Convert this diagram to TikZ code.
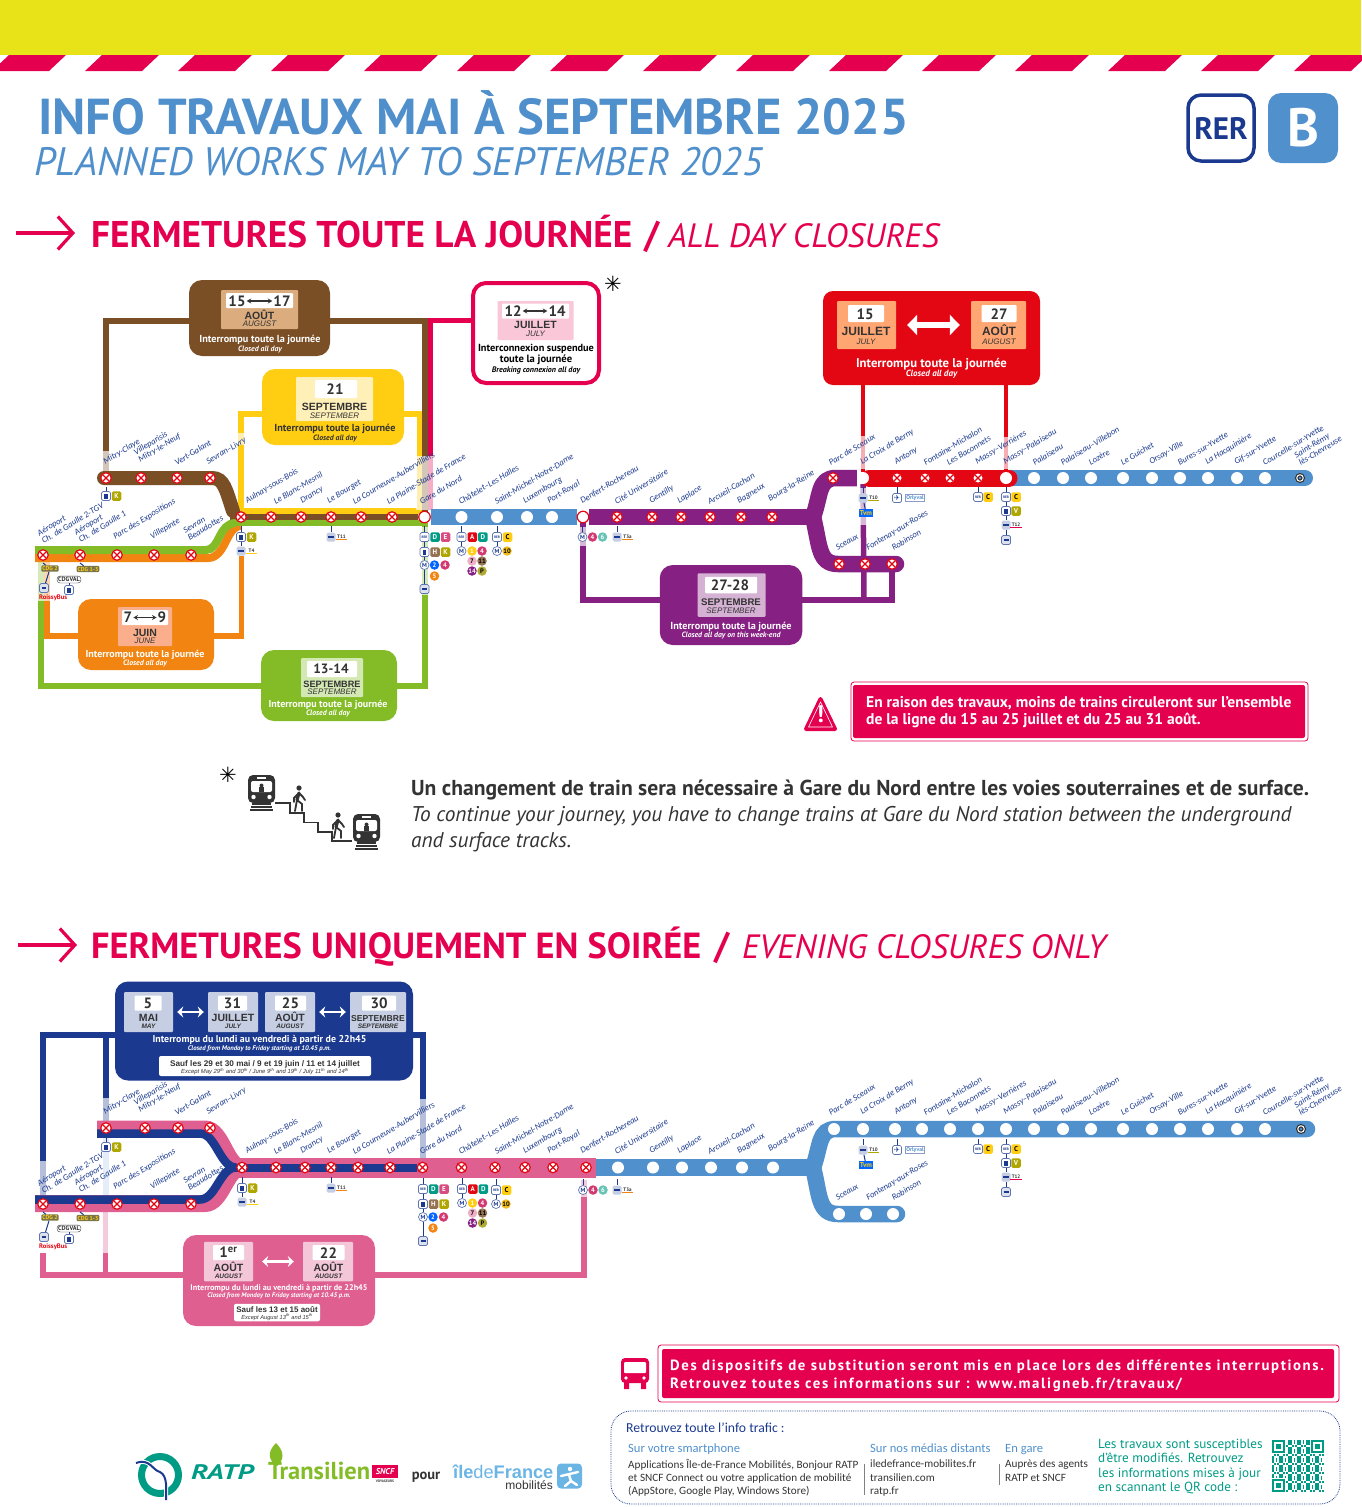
\documentclass[tikz,border=0pt]{standalone}
\usepackage{fontspec}
\setmainfont{PT Sans}
\newfontfamily\stnfont{Carlito}
\newfontfamily\armfont{Liberation Sans}
\newfontfamily\symfont{DejaVu Sans}
\newfontfamily\spacefont[LetterSpace=11]{PT Sans}
\usetikzlibrary{arrows.meta,backgrounds}
\definecolor{bandy}{HTML}{E8E319}
\definecolor{magen}{HTML}{E5004F}
\definecolor{titleb}{HTML}{4F8FCB}
\definecolor{rernavy}{HTML}{1B3A8F}
\definecolor{lineb}{HTML}{5090CD}
\definecolor{brownc}{HTML}{7B4F26}
\definecolor{yellc}{HTML}{FFCD11}
\definecolor{orangc}{HTML}{F28512}
\definecolor{greenc}{HTML}{83BC27}
\definecolor{purpc}{HTML}{862082}
\definecolor{redc}{HTML}{E30613}
\definecolor{pinkc}{HTML}{DF5F90}
\definecolor{tealc}{HTML}{009B85}
\definecolor{darkt}{HTML}{333333}
\definecolor{skyc}{HTML}{6BB5E5}
\tikzset{
  stnx/.style={circle,draw=redc,fill=white,line width=1.2pt,minimum size=10.5pt,inner sep=0,
    path picture={\draw[redc,line width=1.2pt]
      ([shift={(-3.2pt,-3.2pt)}]path picture bounding box.center) -- ([shift={(3.2pt,3.2pt)}]path picture bounding box.center)
      ([shift={(-3.2pt,3.2pt)}]path picture bounding box.center) -- ([shift={(3.2pt,-3.2pt)}]path picture bounding box.center);}},
  stnw/.style={circle,fill=white,minimum size=12pt,inner sep=0},
  stnr/.style={circle,draw=redc,fill=white,line width=1.2pt,minimum size=11.5pt,inner sep=0},
  stnend/.style={circle,draw=darkt,fill=lineb,line width=1.2pt,minimum size=6.5pt,inner sep=0,outer sep=0,double=white,double distance=1pt},
  stntext/.style={anchor=south west,rotate=31,inner sep=0,align=left,text=rernavy,xshift=2.5pt,yshift=-1.5pt,
    font=\stnfont\itshape\fontsize{8.7}{8.7}\selectfont},
  workbox/.style={fill=#1,rounded corners=13pt,inner sep=0},
  tilebox/.style={fill=#1,rounded corners=1pt,inner sep=0},
  datecell/.style={fill=white,rounded corners=1pt,inner sep=0},
  datetxt/.style={inner sep=0,text=darkt,font=\bfseries\fontsize{15}{15}\selectfont},
  monthfr/.style={anchor=base,yshift=-3.8pt,inner sep=0,text=darkt,font=\armfont\bfseries\fontsize{10.5}{10.5}\selectfont},
  monthen/.style={anchor=base,yshift=-2.8pt,inner sep=0,text=darkt,font=\armfont\itshape\fontsize{8}{8}\selectfont},
  smallen/.style={monthen,font=\armfont\itshape\bfseries\fontsize{6.5}{6.5}\selectfont},
  capfr/.style={inner sep=0,font=\bfseries\fontsize{10.2}{10.2}\selectfont},
  capen/.style={inner sep=0,font=\bfseries\itshape\fontsize{7.7}{7.7}\selectfont},
  datearrow/.style={{Stealth[length=4.5pt,width=5pt]}-{Stealth[length=4.5pt,width=5pt]},darkt,line width=1.1pt,shorten >=1pt,shorten <=1pt},
  whitearrow/.style={{Stealth[length=6pt,width=11pt]}-{Stealth[length=6pt,width=11pt]},white,line width=2.6pt},
  bracket/.style={line width=#1,line join=miter},
  pale/.style={fill=white,fill opacity=.68},
  hdarrow/.style={-{Straight Barb[length=15pt,width=33pt,line width=3.2pt]},magen,line width=3.2pt},
  stem/.style={rernavy,line width=1pt},
  modeic/.style={draw=rernavy!70,fill=white,rounded corners=1.5pt,line width=.7pt,minimum size=9pt,inner sep=0,text=rernavy,
    font=\bfseries\fontsize{3.4}{3.4}\selectfont},
  metroic/.style={modeic,circle},
  sqbadge/.style={rounded corners=1.5pt,minimum size=9.5pt,inner sep=0,text=white,font=\bfseries\fontsize{7}{7}\selectfont},
  cibadge/.style={circle,minimum size=9.5pt,inner sep=0,text=white,font=\bfseries\fontsize{6.5}{6.5}\selectfont},
  tagbadge/.style={inner sep=0,minimum width=11pt,minimum height=6.5pt,text=darkt,font=\bfseries\fontsize{5}{5}\selectfont},
  cdgtag/.style={fill=black!60!yellow,rounded corners=1pt,inner sep=1pt,text=yellc,font=\bfseries\fontsize{5.8}{6}\selectfont},
  titlefr/.style={anchor=base west,inner sep=0,text=titleb,font=\bfseries\fontsize{50.5}{50.5}\selectfont},
  titleen/.style={anchor=base west,inner sep=0,text=titleb,font=\itshape\fontsize{39.7}{39.7}\selectfont},
  headfr/.style={anchor=base west,inner sep=0,text=magen,font=\bfseries\fontsize{37.2}{37.2}\selectfont},
  headev/.style={anchor=base west,inner sep=0,text=magen,font=\bfseries\fontsize{36.3}{36.3}\selectfont},
  headen/.style={anchor=base west,inner sep=0,text=magen,font=\itshape\fontsize{33.7}{33.7}\selectfont},
  msgtxt/.style={anchor=base west,inner sep=0,text=white,font=\bfseries\fontsize{15.5}{15.5}\selectfont},
  subtxt/.style={anchor=base west,inner sep=0,text=white,font=\spacefont\bfseries\fontsize{14.8}{14.8}\selectfont},
  infotxt/.style={anchor=base west,inner sep=0,text=darkt,font=\stnfont\fontsize{11.2}{11.2}\selectfont},
  infohead/.style={anchor=base west,inner sep=0,text=lineb,font=\stnfont\fontsize{12.6}{12.6}\selectfont},
  infoteal/.style={anchor=base west,inner sep=0,text=tealc,font=\fontsize{13.2}{13.2}\selectfont},
}
% small icon helpers, local coordinates
\newcommand\sqb[3]{\node[sqbadge,fill=#2] (b#3) at (#1) {#3};}
\newcommand\cib[3]{\node[cibadge,fill=#2] (c#3) at (#1) {#3};}
\newcommand\tagb[3]{\node[tagbadge] (t#3) at (#1) {#3}; \fill[#2] (t#3.south west) rectangle ([yshift=1.2pt]t#3.south east);}
\newcommand\rerb[2]{\node[modeic] (#2) at (#1) {RER};}
\newcommand\trnb[2]{\node[modeic] (#2) at (#1) {\rule{3.4pt}{5pt}};}
\newcommand\mtrb[2]{\node[metroic] (#2) at (#1) {\fontsize{6}{6}\selectfont M};}
\newcommand\trmb[2]{\node[modeic,draw=none,fill=rernavy!25] (#2) at (#1) {\rule{6pt}{1.6pt}};}
\newcommand\botb[2]{\node[modeic,fill=rernavy!15] (#2) at (#1) {\rule{5pt}{2pt}};}
% hubs under the stations
\newcommand\hubk[2]{\begin{scope}[shift={(#2)},name prefix=#1k-]
 \coordinate (top) at (0,9); \trnb{0,18}{trn} \sqb{10.5,18}{olive!70!yellow}{K} \draw[stem] (top) -- (trn);
\end{scope}}
\newcommand\hubaulnay[2]{\begin{scope}[shift={(#2)},name prefix=#1aul-]
 \coordinate (top) at (0,9); \trnb{0,20}{trn} \sqb{10.5,20}{olive!70!yellow}{K} \trmb{0,34}{trm} \tagb{10.5,34}{yellc}{T4}
 \draw[stem] (top) -- (trn); \draw[stem] (trn) -- (trm);
\end{scope}}
\newcommand\hubtram[4]{\begin{scope}[shift={(#2)},name prefix=#1#3-]
 \coordinate (top) at (0,9); \trmb{0,20}{trm} \tagb{10.5,20}{#4}{#3} \draw[stem] (top) -- (trm);
\end{scope}}
\newcommand\hubnord[2]{\begin{scope}[shift={(#2)},name prefix=#1nord-]
 \coordinate (top) at (0,9); \rerb{0,20}{rer} \sqb{10.5,20}{tealc}{D} \sqb{21,20}{pinkc!80!purple}{E}
 \trnb{0,35}{trn} \sqb{10.5,35}{brownc!80}{H} \sqb{21,35}{olive!70!yellow}{K}
 \mtrb{0,48}{mtr} \cib{10,48}{blue!60!cyan}{2} \cib{20.5,48}{pinkc!60!purple}{4} \cib{10,59}{orangc}{5}
 \botb{0,72}{bot}
 \draw[stem] (top) -- (rer); \draw[stem] (rer) -- (trn); \draw[stem] (trn) -- (mtr); \draw[stem] (mtr) -- (bot);
\end{scope}}
\newcommand\hubchat[2]{\begin{scope}[shift={(#2)},name prefix=#1chat-]
 \coordinate (top) at (0,9); \rerb{0,20}{rer} \sqb{10.8,20}{redc}{A} \sqb{21.3,20}{tealc}{D}
 \mtrb{0,34}{mtr} \cib{10.5,34}{yellc}{1} \cib{20.5,34}{pinkc!60!purple}{4}
 \node[cibadge,fill=pinkc!50,text=black] (c7) at (10.5,44) {7}; \node[cibadge,fill=brownc!80,text=black] (c11) at (20.5,44) {11};
 \cib{10.5,54}{purpc}{14} \node[cibadge,fill=olive!70,text=black] (cP) at (20.5,54) {P};
 \draw[stem] (top) -- (rer); \draw[stem] (rer) -- (mtr);
\end{scope}}
\newcommand\hubmich[2]{\begin{scope}[shift={(#2)},name prefix=#1mich-]
 \coordinate (top) at (0,9); \rerb{0,20}{rer} \node[sqbadge,fill=yellc,text=black] (bC) at (10.5,20) {C};
 \mtrb{0,34}{mtr} \node[cibadge,fill=yellc!80!brown,text=black] (c10) at (10,34) {10};
 \draw[stem] (top) -- (rer); \draw[stem] (rer) -- (mtr);
\end{scope}}
\newcommand\hubdenf[2]{\begin{scope}[shift={(#2)},name prefix=#1denf-]
 \coordinate (top) at (0,9); \mtrb{0,20}{mtr} \cib{10,20}{pinkc!60!purple}{4} \cib{20,20}{tealc!60}{6}
 \draw[stem] (top) -- (mtr);
\end{scope}}
\newcommand\hubcroix[2]{\begin{scope}[shift={(#2)},name prefix=#1croix-]
 \coordinate (top) at (0,9); \trmb{0,20}{trm} \tagb{10.5,20}{olive!70!yellow}{T10}
 \node[fill=blue!60!cyan,inner sep=1.2pt,text=yellc,font=\bfseries\fontsize{7}{7}\selectfont] (tvm) at (3,35) {Tvm};
 \draw[stem] (top) -- (trm); \draw[stem] (trm) -- (tvm);
\end{scope}}
\newcommand\hubanto[2]{\begin{scope}[shift={(#2)},name prefix=#1anto-]
 \coordinate (top) at (0,9); \node[modeic,font=\symfont\fontsize{7}{7}\selectfont] (pln) at (0,20) {✈};
 \node[draw=rernavy!50,inner sep=.8pt,text=lineb,font=\bfseries\fontsize{5.6}{5.6}\selectfont] (orl) at (18,20) {Orlyval};
 \draw[stem] (top) -- (pln);
\end{scope}}
\newcommand\hubmassyv[2]{\begin{scope}[shift={(#2)},name prefix=#1mav-]
 \coordinate (top) at (0,9); \rerb{0,19}{rer} \node[sqbadge,fill=yellc,text=black] (bC) at (10,19) {C};
 \draw[stem] (top) -- (rer);
\end{scope}}
\newcommand\hubmassyp[2]{\begin{scope}[shift={(#2)},name prefix=#1map-]
 \coordinate (top) at (0,9); \rerb{0,19}{rer} \node[sqbadge,fill=yellc,text=black] (bC) at (10,19) {C};
 \trnb{0,33}{trn} \sqb{10,33}{olive!70!yellow}{V}
 \trmb{0,47}{trm} \tagb{10,47}{magen}{T12} \botb{0,62}{bot}
 \draw[stem] (top) -- (rer); \draw[stem] (rer) -- (trn); \draw[stem] (trn) -- (trm); \draw[stem] (trm) -- (bot);
\end{scope}}
\newcommand\hubcdg[2]{\begin{scope}[shift={(#2)},name prefix=#1cdg-]
 \coordinate (top) at (0,8); \coordinate (topb) at (37,8);
 \node[cdgtag] (cdga) at (7,13.5) {CDG 2}; \node[cdgtag] (cdgb) at (45,14) {CDG 1-3};
 \node[draw=darkt,fill=white,rounded corners=3pt,inner sep=1.2pt,text=darkt,font=\bfseries\fontsize{6.2}{6.2}\selectfont] (val) at (26,24.5) {CDGVAL};
 \botb{1,33}{bot} \trnb{26,35}{trn}
 \node[anchor=west,inner sep=0,text=redc,font=\bfseries\fontsize{6.6}{6.6}\selectfont] (rbus) at (-4,43) {RoissyBus};
 \draw[stem] (top) -- (cdga); \draw[stem] (cdga) -- (bot); \draw[stem] (topb) -- (cdgb); \draw[stem] (val) -- (trn);
\end{scope}}
% the names of the stations, for both maps
\newcommand\stationlabels{
 \foreach \x/\y/\t [count=\i] in {
  41/544/{Aéroport\\Ch. de Gaulle 2-TGV},78/543/{Aéroport\\Ch. de Gaulle 1},113/541/Parc des Expositions,
  150/541/Villepinte,187/541/{Sevran\\Beaudottes},103/466/Mitry-Claye,138/464/{Villeparisis\\Mitry-le-Neuf},
  174/466/Vert-Galant,206/466/Sevran–Livry,245/505/Aulnay-sous-Bois,273/505/Le Blanc-Mesnil,300/505/Drancy,
  327/505/Le Bourget,352/505/La Courneuve-Aubervilliers,386/505/La Plaine-Stade de France,419/505/Gare du Nord,
  458/505/Châtelet–Les Halles,494/505/Saint-Michel-Notre-Dame,523/505/Luxembourg,547/505/Port-Royal,
  580/505/Denfert-Rochereau,614/505/Cité Universitaire,649/505/Gentilly,677/505/Laplace,707/505/Arcueil-Cachan,
  737/505/Bagneux,768/503/Bourg-la-Reine,828/466/Parc de Sceaux,860/466/La Croix de Berny,894/466/Antony,
  923/466/Fontaine-Michalon,946/466/Les Baconnets,975/466/Massy–Verrières,1003/466/Massy–Palaiseau,
  1032/466/Palaiseau,1060/466/Palaiseau–Villebon,1088/466/Lozère,1120/466/Le Guichet,1149/466/Orsay-Ville,
  1177/466/Bures-sur-Yvette,1205/466/La Hacquinière,1234/466/Gif-sur-Yvette,1262/466/Courcelle-sur-Yvette,
  1298/466/{Saint-Rémy\\lès-Chevreuse},835/551/Sceaux,866/552/Fontenay-aux-Roses,891/551/Robinson}
  {\node[stntext] (lab\i) at (\x,\y) {\t};}
}
\newcommand\trainpic[2]{\begin{scope}[shift={(#1,#2)}]
 \fill[darkt,rounded corners=5pt] (0,0) rectangle (27,28);
 \fill[white,rounded corners=2pt] (3,6) rectangle (24,17);
 \fill[darkt] (11,17) rectangle (16,12); \fill[darkt] (13.5,10.5) circle (2);
 \fill[white] (9,2) rectangle (18,3.5); \fill[white] (5.5,22) circle (2.2) (21.5,22) circle (2.2);
 \draw[darkt,line width=1.2pt] (4,29) -- (23,29) (3,32) -- (24,32) (2,35) -- (25,35);
\end{scope}}
\newcommand\walkerpic[2]{\begin{scope}[shift={(#1,#2)}]
 \fill[darkt] (0,0) circle (2.6);
 \draw[darkt,line width=3.2pt,line cap=round] (0,5) -- (-2,12);
 \draw[darkt,line width=1.8pt,line cap=round] (-2,12) -- (-4,23) (-2,12) -- (3,16) -- (3,23) (0,5) -- (-5,10) -- (-5,14) (0,5) -- (4,9) -- (6,12);
\end{scope}}
\begin{document}
\begin{tikzpicture}[x=1pt,y=-1pt]
\useasboundingbox (0,0) rectangle (1361,1507);
\fill[bandy] (0,0) rectangle (1361,55);
\foreach \k in {0,...,14} {\fill[magen,shift={(\k*93,0)}] (-8,71) -- (49,71) -- (66,55) -- (9,55) -- cycle;}
% titles
\node[titlefr] (titlea) at (38,134) {INFO TRAVAUX MAI À SEPTEMBRE 2025};
\node[titleen] (titleb) at (34,175) {PLANNED WORKS MAY TO SEPTEMBER 2025};
\node[draw=rernavy,line width=3.5pt,fill=white,rounded corners=13pt,minimum size=66pt,inner sep=0,text=rernavy,
  font=\bfseries\fontsize{31}{31}\selectfont] (rerlogo) at (1221,128) {RER};
\node[fill=lineb,rounded corners=13pt,minimum size=70pt,inner sep=0,text=white,
  font=\bfseries\fontsize{54}{54}\selectfont] (blogo) at (1303,128) {B};
\coordinate (hda) at (16,233); \coordinate (hdb) at (75,233);
\draw[hdarrow] (hda) -- (hdb);
\node[headfr] (heada) at (91,247) {FERMETURES TOUTE LA JOURNÉE};
\node[headfr] (headb) at (644,247) {/};
\node[headen] (headc) at (668,247) {ALL DAY CLOSURES};
\coordinate (hdc) at (18,945); \coordinate (hdd) at (77,945);
\draw[hdarrow] (hdc) -- (hdd);
\node[headev] (headd) at (91,958) {FERMETURES UNIQUEMENT EN SOIRÉE};
\node[headfr] (heade) at (714,958) {/};
\node[headen] (headf) at (742,958) {EVENING CLOSURES ONLY};
% all day map, stations
\foreach \x [count=\i] in {106,141,177,210} {\node[stnx] (u\i) at (\x,478) {};}
\foreach \x [count=\i] in {43,80,117,154,191} {\node[stnx] (v\i) at (\x,555) {};}
\foreach \x [count=\i] in {241,271,301,331,361,392} {\node[stnx] (m\i) at (\x,517) {};}
\node[stnr] (nord) at (424.5,517) {};
\foreach \x [count=\i] in {461.5,497,527,552} {\node[stnw] (c\i) at (\x,517) {};}
\node[stnr] (denf) at (583,517) {};
\foreach \x [count=\i] in {617,652,681,710,741,772} {\node[stnx] (s\i) at (\x,517) {};}
\node[stnx] (parc) at (833,478) {};
\node[stnw] (croix) at (863,478) {};
\foreach \x [count=\i] in {897,925,950,978} {\node[stnx] (r\i) at (\x,478) {};}
\node[stnw] (massy) at (1006,478) {};
\foreach \x [count=\i] in {1034,1063,1091,1123,1152,1180,1208,1237,1265} {\node[stnw] (w\i) at (\x,478) {};}
\node[stnend] (remy) at (1300,478) {};
\foreach \x [count=\i] in {839,865,892} {\node[stnx] (l\i) at (\x,564) {};}
\begin{scope}[name prefix=ta-] \stationlabels \end{scope}
% all day boxes
\node[workbox=brownc,minimum width=141pt,minimum height=76pt] (brownbox) at (259.5,318) {};
\node[tilebox=brownc!50!orange!55!white,minimum width=77pt,minimum height=39pt] (browntile) at (259.5,309.5) {};
\node[datecell,minimum width=67pt,minimum height=15pt] (browncell) at (259.5,300.5) {};
\node[datetxt] (b15) at (237,301) {15}; \node[datetxt] (b17) at (282,301) {17};
\draw[datearrow] (b15) -- (b17);
\node[monthfr] (bm) at (259.5,316) {AOÛT}; \node[monthen] (bn) at (259.5,324) {AUGUST};
\node[capfr,text=white] (bc) at (260,340) {Interrompu toute la journée};
\node[capen,text=white] (bd) at (260,349.5) {Closed all day};

\node[workbox=yellc,minimum width=142pt,minimum height=76pt] (yellbox) at (333,407) {};
\node[tilebox=yellc!30!white,minimum width=77pt,minimum height=44pt] (yelltile) at (334.5,399) {};
\node[datecell,minimum width=42pt,minimum height=18pt] (yellcell) at (336,389) {};
\node[datetxt] (y21) at (335,389) {21};
\node[monthfr] (ym) at (334.5,406.5) {SEPTEMBRE}; \node[monthen] (yn) at (334.5,416) {SEPTEMBER};
\node[capfr,text=darkt] (yc) at (335,429) {Interrompu toute la journée};
\node[capen,text=darkt] (yd) at (335,438.5) {Closed all day};

\node[workbox=white,draw=magen,line width=4pt,minimum width=126pt,minimum height=100pt] (pinkbox) at (536,333) {};
\node[tilebox=magen!22!white,minimum width=76pt,minimum height=39pt] (pinktile) at (535.5,320.5) {};
\node[datecell,minimum width=67pt,minimum height=15pt] (pinkcell) at (535.5,311) {};
\node[datetxt] (p12) at (513,311) {12}; \node[datetxt] (p14) at (557,311) {14};
\draw[datearrow] (p12) -- (p14);
\node[monthfr] (pm) at (535.5,325) {JUILLET}; \node[monthen] (pn) at (535.5,333.5) {JULY};
\node[capfr,text=black,font=\bfseries\fontsize{10.3}{10.3}\selectfont] (pc) at (536,349) {Interconnexion suspendue};
\node[capfr,text=black,font=\bfseries\fontsize{10.6}{10.6}\selectfont] (pe) at (536,360) {toute la journée};
\node[capen,text=black,font=\bfseries\itshape\fontsize{8}{8}\selectfont] (pd) at (536,370) {Breaking connexion all day};
\node[inner sep=0,font=\symfont\fontsize{21}{21}\selectfont] (stara) at (613,284) {✳};

\node[workbox=redc,rounded corners=10pt,minimum width=217pt,minimum height=94pt] (redbox) at (931.5,338) {};
\node[tilebox=orange!40!pink,minimum width=59pt,minimum height=48pt] (redtilea) at (866.5,325) {};
\node[tilebox=orange!40!pink,minimum width=55pt,minimum height=48pt] (redtileb) at (998.5,325) {};
\node[datecell,minimum width=36pt,minimum height=17pt] (redcella) at (866,313.5) {};
\node[datecell,minimum width=35pt,minimum height=17pt] (redcellb) at (999,313.5) {};
\node[datetxt] (r15) at (865,314) {15}; \node[datetxt] (r27) at (999,314) {27};
\node[monthfr,font=\armfont\bfseries\fontsize{12}{12}\selectfont] (rm) at (866,332) {JUILLET};
\node[monthen] (rn) at (866,342) {JULY};
\node[monthfr,font=\armfont\bfseries\fontsize{12}{12}\selectfont] (rp) at (999,332) {AOÛT};
\node[monthen] (rq) at (999,342) {AUGUST};
\draw[{Triangle[length=10pt,width=20pt]}-{Triangle[length=10pt,width=20pt]},white,line width=5.5pt,shorten >=11pt,shorten <=11pt] (redtilea) -- (redtileb);
\node[capfr,text=white,font=\bfseries\fontsize{12.7}{12.7}\selectfont] (rc) at (931.5,364) {Interrompu toute la journée};
\node[capen,text=white,font=\bfseries\itshape\fontsize{9}{9}\selectfont] (rd) at (931.5,374) {Closed all day};

\node[workbox=purpc,minimum width=142.5pt,minimum height=80pt] (purpbox) at (731,605) {};
\node[tilebox=purpc!35!white,minimum width=68pt,minimum height=43.5pt] (purptile) at (731.5,595) {};
\node[datecell,minimum width=52pt,minimum height=16.5pt] (purpcell) at (731,585) {};
\node[datetxt] (p2728) at (730,585) {27-28};
\node[monthfr,font=\armfont\bfseries\fontsize{9.6}{9.6}\selectfont] (qm) at (731,601.5) {SEPTEMBRE}; \node[monthen] (qn) at (731,611) {SEPTEMBER};
\node[capfr,text=white] (qc) at (731,627) {Interrompu toute la journée};
\node[capen,text=white] (qd) at (731,635.5) {Closed all day on this week-end};

\node[workbox=orangc,minimum width=136pt,minimum height=71pt] (orangbox) at (146,634.5) {};
\node[tilebox=orangc!30!pink,minimum width=54pt,minimum height=39pt] (orangtile) at (145,626.5) {};
\node[datecell,minimum width=46pt,minimum height=15pt] (orangcell) at (145,617.5) {};
\node[datetxt] (o7) at (128,617.5) {7}; \node[datetxt] (o9) at (162,617.5) {9};
\draw[datearrow] (o7) -- (o9);
\node[monthfr] (om) at (145,633) {JUIN}; \node[monthen] (on) at (145,641) {JUNE};
\node[capfr,text=white,font=\bfseries\fontsize{10}{10}\selectfont] (oc) at (145,655) {Interrompu toute la journée};
\node[capen,text=white] (od) at (145,663.5) {Closed all day};

\node[workbox=greenc,minimum width=136pt,minimum height=71pt] (greenbox) at (329,685.5) {};
\node[tilebox=greenc!35!white,minimum width=62pt,minimum height=39pt] (greentile) at (332,677.5) {};
\node[datecell,minimum width=50pt,minimum height=16pt] (greencell) at (332,669) {};
\node[datetxt,font=\bfseries\fontsize{13.5}{13.5}\selectfont] (g1314) at (331,669) {13-14};
\node[monthfr,font=\armfont\bfseries\fontsize{9.2}{9.2}\selectfont] (gm) at (332,684) {SEPTEMBRE}; \node[monthen] (gn) at (332,692) {SEPTEMBER};
\node[capfr,text=white,font=\bfseries\fontsize{10}{10}\selectfont] (gc) at (328,705) {Interrompu toute la journée};
\node[capen,text=white] (gd) at (328,714) {Closed all day};
% all day map, lines under everything
\begin{scope}[on background layer]
\coordinate (orangl) at (47,562); \coordinate (orangr) at (241.5,556); \coordinate (purpc1) at (864,600); \coordinate (greenm) at (236,523);
\draw[bracket=6pt,brownc] ([yshift=-2.5pt]brownbox.west) -| (u1);
\draw[bracket=6pt,brownc] ([yshift=-2.5pt]brownbox.east) -| (425,517);
\draw[bracket=5pt,magen] ([yshift=12.5pt]pinkbox.west) -| (430,510);
\draw[bracket=5.5pt,yellc] ([yshift=-7pt]yellbox.west) -| (241,511) -- (419.5,511) |- ([yshift=-7pt]yellbox.east);
\draw[bracket=6pt,greenc] (41,562) |- (greenbox.west);
\draw[bracket=6pt,greenc] (greenbox.east) -| (nord);
\draw[bracket=5.5pt,orangc] ([yshift=-1.5pt]orangbox.west) -| (orangl);
\draw[bracket=5.5pt,orangc] ([yshift=-1.5pt]orangbox.east) -| (orangr);
\draw[bracket=5.5pt,purpc] ([yshift=5pt]purpbox.west) -| (denf);
\draw[bracket=5.5pt,purpc] ([yshift=5pt]purpbox.east) -| (l3);
\draw[bracket=5.5pt,purpc] (purpc1) -- (croix);
\draw[bracket=4.5pt,redc] (croix |- redbox.south) -- (croix);
\draw[bracket=4.5pt,redc] (massy |- redbox.south) -- (massy);
\foreach \a/\b/\c/\d in {102/451/110/472,416/456/433/510,237/433/245/445,859/436/868/469,1002/437/1010/469,
  858/488/870/525,421/527/429/595,579/527/586/546,37/562/51/601}
  {\fill[pale] (\a,\b) rectangle (\c,\d);}
\draw[line width=14pt,brownc,line cap=round] (104,478) -- (212,478) .. controls (224,478) and (226,490) .. (233,511);
\draw[line width=6pt,brownc] (230,517) -- (nord);
\draw[line width=8pt,orangc] (35,558) -- (208,558) .. controls (226,558) and (226,526) .. (241,526);
\draw[line width=8pt,greenc] (35,550) -- (206,550) .. controls (220,550) and (218,523) .. (greenm);
\draw[line width=6pt,greenc] (greenm) -- (greenm -| nord);
\draw[line width=16pt,lineb] (nord) -- (denf);
\draw[line width=16.5pt,purpc] (denf) -- (813,517);
\draw[line width=16.5pt,purpc,line join=round] (813,517) .. controls (821,495) and (818,478) .. (836,478) -- (croix);
\draw[line width=16.5pt,purpc,line cap=round] (813,517) .. controls (820,545) and (818,564) .. (838,564) -- (896,564);
\draw[line width=16pt,lineb,line cap=round] (massy) -- (1305,478);
\draw[line width=17pt,redc,line cap=round] (croix) -- (1009,478);
\end{scope}
% hubs of the all day map
\hubk{ta}{106,478} \hubaulnay{ta}{241,517} \hubtram{ta}{331,517}{T11}{orangc} \hubcdg{ta}{43,555}
\hubnord{ta}{424.5,517} \hubchat{ta}{461.5,517} \hubmich{ta}{497,517} \hubdenf{ta}{582.5,517}
\hubtram{ta}{617,517}{T3a}{orangc} \hubcroix{ta}{863,478} \hubanto{ta}{897,478} \hubmassyv{ta}{978,478} \hubmassyp{ta}{1006,478}
% notice and change of train
\node[fill=white,draw=magen,line width=.8pt,rounded corners=3pt,minimum width=457pt,minimum height=59pt] (warnbox) at (1079.5,711.5) {};
\node[fill=magen,rounded corners=2pt,minimum width=452pt,minimum height=53pt] (warnin) at (1079,711.5) {};
\node[msgtxt] (warna) at (866,707) {En raison des travaux, moins de trains circuleront sur l’ensemble};
\node[msgtxt] (warnb) at (866,724) {de la ligne du 15 au 25 juillet et du 25 au 31 août.};
\filldraw[magen,draw=magen,line width=4pt,line join=round] (820.5,699) -- (835,729) -- (806,729) -- cycle;
\draw[white,line width=.6pt,line join=round] (820.5,702) -- (832.5,727) -- (808.5,727) -- cycle;
\node[inner sep=0,text=white,font=\bfseries\fontsize{24}{24}\selectfont] (warnmark) at (820.5,714) {!};
\node[inner sep=0,font=\symfont\fontsize{21}{21}\selectfont] (starb) at (228,775) {✳};
\trainpic{248}{775} \trainpic{353}{814}
\draw[darkt,line width=1.4pt] (275,803) -- (290,803) -- (290,813) -- (304,813) -- (304,822.5) -- (318,822.5) -- (318,832) -- (332,832) -- (332,841) -- (352,841);
\walkerpic{299}{788} \walkerpic{338}{815}
\node[anchor=base west,inner sep=0,text=darkt,font=\bfseries\fontsize{21.6}{21.6}\selectfont] (changea) at (411,795) {Un changement de train sera nécessaire à Gare du Nord entre les voies souterraines et de surface.};
\node[anchor=base west,inner sep=0,text=darkt,font=\itshape\fontsize{21.3}{21.3}\selectfont] (changeb) at (411,821) {To continue your journey, you have to change trains at Gare du Nord station between the underground};
\node[anchor=base west,inner sep=0,text=darkt,font=\itshape\fontsize{21.3}{21.3}\selectfont] (changec) at (411,847) {and surface tracks.};
% evening map, stations
\begin{scope}[name prefix=ev-]
\foreach \x [count=\i] in {106,145,178,210} {\node[stnx] (u\i) at (\x,1128) {};}
\foreach \x [count=\i] in {43,80,117,154,191} {\node[stnx] (v\i) at (\x,1204) {};}
\foreach \x [count=\i] in {242,276,305,331,358,390,422.5,461.5,495,525,553,586} {\node[stnx] (m\i) at (\x,1167.5) {};}
\foreach \x [count=\i] in {618,653,682,711,742,773} {\node[stnw] (s\i) at (\x,1167.5) {};}
\foreach \x [count=\i] in {834,863,895,922,950,978,1006,1034,1063,1091,1123,1152,1180,1208,1237,1265} {\node[stnw] (w\i) at (\x,1129) {};}
\node[stnend] (remy) at (1301,1129) {};
\foreach \x [count=\i] in {839,866,893} {\node[stnw] (l\i) at (\x,1214) {};}
\end{scope}
\begin{scope}[shift={(0,650)},name prefix=ev-] \stationlabels \end{scope}
% evening boxes
\node[workbox=rernavy,minimum width=298pt,minimum height=99pt] (navybox) at (264,1031) {};
\foreach \x/\w/\cx/\cw/\d/\m/\n/\k in {148.5/49/148/27/5/MAI/MAY/a,233/50/232.5/29/31/JUILLET/JULY/b,290/50/290.5/31/25/AOÛT/AUGUST/c,378/56/379/34/30/{\fontsize{8.6}{8.6}\selectfont SEPTEMBRE}/SEPTEMBRE/d}{
 \node[tilebox=rernavy!25!white,minimum width=\w pt,minimum height=40pt] (nt\k) at (\x,1012) {};
 \node[datecell,minimum width=\cw pt,minimum height=15pt] (nc\k) at (\cx,1003) {};
 \node[datetxt] (nd\k) at (\cx,1003) {\d};
 \node[monthfr] (nm\k) at (\x,1017.5) {\m};
 \node[smallen] (ne\k) at (\x,1026) {\n};
}
\draw[whitearrow,shorten >=4pt,shorten <=4pt] (nta) -- (ntb);
\draw[whitearrow,shorten >=4pt,shorten <=4pt] (ntc) -- (ntd);
\node[capfr,text=white,font=\bfseries\fontsize{9.9}{9.9}\selectfont] (nf) at (259.5,1040) {Interrompu du lundi au vendredi à partir de 22h45};
\node[capen,text=white,font=\bfseries\itshape\fontsize{6.7}{6.7}\selectfont] (ng) at (259.5,1049) {Closed from Monday to Friday starting at 10.45 p.m.};
\node[datecell,rounded corners=2pt,minimum width=212pt,minimum height=20pt] (nh) at (265,1066) {};
\node[monthfr,font=\armfont\bfseries\fontsize{8.2}{8.2}\selectfont] (ni) at (265,1062.5) {Sauf les 29 et 30 mai / 9 et 19 juin / 11 et 14 juillet};
\node[monthen,font=\armfont\itshape\fontsize{5.9}{5.9}\selectfont] (nj) at (265,1071) {Except May 29\textsuperscript{th} and 30\textsuperscript{th} / June 9\textsuperscript{th} and 19\textsuperscript{th} / July 11\textsuperscript{th} and 14\textsuperscript{th}};

\node[workbox=pinkc,minimum width=192pt,minimum height=91pt] (rosebox) at (279,1280.5) {};
\node[tilebox=pinkc!35!white,minimum width=49pt,minimum height=39.5pt] (rta) at (228.5,1261.5) {};
\node[tilebox=pinkc!35!white,minimum width=50pt,minimum height=39.5pt] (rtb) at (328,1261.5) {};
\node[datecell,minimum width=31pt,minimum height=15pt] (rca) at (228.5,1252.5) {};
\node[datecell,minimum width=32pt,minimum height=15pt] (rcb) at (328.5,1252.5) {};
\node[datetxt] (rda) at (228.5,1252) {1\textsuperscript{er}}; \node[datetxt] (rdb) at (328.5,1253) {22};
\node[monthfr] (rma) at (228.5,1268) {AOÛT}; \node[smallen] (rna) at (228.5,1275.5) {AUGUST};
\node[monthfr] (rmb) at (328.5,1268) {AOÛT}; \node[smallen] (rnb) at (328.5,1275.5) {AUGUST};
\draw[whitearrow,shorten >=9pt,shorten <=9pt] (rta) -- (rtb);
\node[capfr,text=white,font=\bfseries\fontsize{8.2}{8.2}\selectfont] (rf) at (279,1288.5) {Interrompu du lundi au vendredi à partir de 22h45};
\node[capen,text=white,font=\bfseries\itshape\fontsize{6.7}{6.7}\selectfont] (rg) at (279,1296) {Closed from Monday to Friday starting at 10.45 p.m.};
\node[datecell,rounded corners=2pt,minimum width=86pt,minimum height=17.5pt] (rh) at (277,1312.5) {};
\node[monthfr,font=\armfont\bfseries\fontsize{8}{8}\selectfont] (ri) at (277,1308.5) {Sauf les 13 et 15 août};
\node[monthen,font=\armfont\itshape\fontsize{5.7}{5.7}\selectfont] (rj) at (277,1316.5) {Except August 13\textsuperscript{th} and 15\textsuperscript{th}};
% evening map, lines under everything
\begin{scope}[on background layer,name prefix=ev-]
\coordinate (rosel) at (43,1253);
\fill[lineb!15!white] (102.7,1138) rectangle (108.7,1196);
\draw[bracket=6pt,rernavy] ([yshift=-4pt]navybox.west) -| (v1);
\draw[bracket=6pt,rernavy] ([yshift=-4pt]navybox.west) -| (u1);
\draw[bracket=6pt,rernavy] ([yshift=-4pt]navybox.east) -| (m7);
\draw[bracket=5.5pt,pinkc] ([yshift=5.5pt]rosebox.west) -| (rosel);
\draw[bracket=5.5pt,pinkc] ([yshift=5.5pt]rosebox.east) -| (584,1180);
\draw[bracket=5.5pt,pinkc] (105.5,1275) -- (105.5,1212);
\foreach \a/\b/\c/\d in {40/1161/48/1196,102/1098/110/1121,418/1099/426/1158,102/1212/110/1253,581/1178/587/1197}
  {\fill[pale] (\a,\b) rectangle (\c,\d);}
\draw[line width=17pt,pinkc] (97,1129) -- (205,1129) .. controls (222,1129) and (226,1167.5) .. (242,1167.5);
\draw[line width=17pt,pinkc] (35,1203.5) -- (205,1203.5) .. controls (222,1203.5) and (226,1167.5) .. (242,1167.5);
\draw[line width=20pt,pinkc] (236,1167.5) -- (596,1167.5);
\draw[line width=8.5pt,rernavy] (97,1133.5) -- (200,1133.5) .. controls (216,1133.5) and (220,1167.5) .. (236,1167.5);
\draw[line width=8.5pt,rernavy] (35,1199.5) -- (200,1199.5) .. controls (216,1199.5) and (220,1167.5) .. (236,1167.5);
\draw[line width=8pt,rernavy] (232,1167.5) -- (m7);
\draw[line width=16.5pt,lineb] (596,1167.5) -- (813,1167.5);
\draw[line width=16.5pt,lineb,line cap=round] (813,1167.5) .. controls (821,1146) and (818,1129) .. (836,1129) -- (1307,1129);
\draw[line width=16.5pt,lineb,line cap=round] (813,1167.5) .. controls (820,1195) and (818,1214) .. (838,1214) -- (897,1214);
\end{scope}
% hubs of the evening map
\hubk{ev}{106,1129} \hubaulnay{ev}{242,1168} \hubtram{ev}{331,1168}{T11}{orangc} \hubcdg{ev}{43,1204}
\hubnord{ev}{423,1169} \hubchat{ev}{462,1169} \hubmich{ev}{496,1170} \hubdenf{ev}{583,1170}
\hubtram{ev}{617,1170}{T3a}{orangc} \hubcroix{ev}{863,1130} \hubanto{ev}{897,1130} \hubmassyv{ev}{978,1130} \hubmassyp{ev}{1006,1130}
% bus notice
\fill[magen,rounded corners=4pt] (621,1358) rectangle (649,1383);
\fill[magen] (624,1382) rectangle (629,1389) (641,1382) rectangle (646,1389);
\fill[white,rounded corners=1pt] (624,1362) rectangle (646,1373);
\fill[white] (626,1378) circle (1.8) (644,1378) circle (1.8);
\node[fill=white,draw=magen,line width=.8pt,rounded corners=3pt,minimum width=681pt,minimum height=57pt] (subbox) at (998.5,1373.5) {};
\node[fill=magen,rounded corners=2pt,minimum width=672pt,minimum height=49pt] (subin) at (998,1373.5) {};
\node[subtxt] (suba) at (670,1370) {Des dispositifs de substitution seront mis en place lors des différentes interruptions.};
\node[subtxt] (subb) at (670,1388) {Retrouvez toutes ces informations sur : www.maligneb.fr/travaux/};
% info box
\node[draw=rernavy,densely dotted,line width=.8pt,rounded corners=20pt,minimum width=729pt,minimum height=93pt] (infobox) at (975.5,1457.5) {};
\node[anchor=base west,inner sep=0,text=rernavy,font=\stnfont\fontsize{13.7}{13.7}\selectfont] (infoa) at (626,1432) {Retrouvez toute l’info trafic :};
\node[infohead] (infob) at (628,1452) {Sur votre smartphone};
\node[infotxt] (infoc) at (628,1468) {Applications Île-de-France Mobilités, Bonjour RATP};
\node[infotxt] (infod) at (628,1481) {et SNCF Connect ou votre application de mobilité};
\node[infotxt] (infoe) at (628,1494) {(AppStore, Google Play, Windows Store)};
\node[infohead] (infof) at (870,1452) {Sur nos médias distants};
\node[infotxt] (infog) at (870,1467) {iledefrance-mobilites.fr};
\node[infotxt] (infoh) at (870,1481) {transilien.com};
\node[infotxt] (infoi) at (870,1494) {ratp.fr};
\node[infohead] (infoj) at (1005,1452) {En gare};
\node[infotxt] (infok) at (1005,1467) {Auprès des agents};
\node[infotxt] (infol) at (1005,1481) {RATP et SNCF};
\draw[black!50,line width=.5pt] (864,1464) -- (864,1495) (999,1464) -- (999,1485);
\node[infoteal] (infom) at (1098,1448) {Les travaux sont susceptibles};
\node[infoteal] (infon) at (1098,1462) {d’être modifiés. Retrouvez};
\node[infoteal] (infoo) at (1098,1477) {les informations mises à jour};
\node[infoteal] (infop) at (1098,1491) {en scannant le QR code :};
\foreach \i in {0,...,28} \foreach \j in {0,...,28} {
  \pgfmathtruncatemacro\q{mod(\i*\i+\j*\j*3+\i*\j*5+\i+2*\j,5)}
  \ifnum\q<2 \fill[tealc] (1272+\i*1.8,1440+\j*1.8) rectangle ++(1.8,1.8); \fi
}
\foreach \a/\b in {1272/1440,1311.4/1440,1272/1479.4} {
  \fill[white] (\a-1,\b-1) rectangle ++(14.6,14.6);
  \fill[tealc] (\a,\b) rectangle ++(12.6,12.6);
  \fill[white] (\a+1.8,\b+1.8) rectangle ++(9,9);
  \fill[tealc] (\a+3.6,\b+3.6) rectangle ++(5.4,5.4);
}
% logos
\draw[tealc,line width=7pt] (160,1475) circle (18.5);
\draw[white,line width=4pt] (136,1463) .. controls (150,1458) and (152,1470) .. (160,1472) .. controls (168,1476) and (166,1490) .. (166,1500);
\draw[rernavy,line width=2pt] (136,1463) .. controls (150,1458) and (152,1470) .. (160,1472) .. controls (168,1476) and (166,1490) .. (166,1500);
\node[anchor=base west,inner sep=0,text=tealc,font=\bfseries\itshape\fontsize{21}{21}\selectfont] (ratp) at (191,1479) {\scalebox{1.38}[1]{RATP}};
\fill[greenc] (277,1466) .. controls (268,1460) and (267,1452) .. (276,1443) .. controls (285,1452) and (284,1460) .. (277,1466);
\node[anchor=base west,inner sep=0,text=greenc,font=\bfseries\fontsize{24.5}{24.5}\selectfont] (transil) at (268,1479) {Transilien};
\node[fill=magen,inner sep=0,minimum width=26pt,minimum height=13pt,text=white,font=\bfseries\itshape\fontsize{8.5}{8.5}\selectfont] (sncf) at (385,1471.5) {SNCF};
\node[inner sep=0,text=darkt,font=\bfseries\fontsize{3.5}{3.5}\selectfont] (voyag) at (385,1481) {VOYAGEURS};
\node[anchor=base,inner sep=0,text=darkt,font=\bfseries\fontsize{14.5}{14.5}\selectfont] (pour) at (426,1479) {pour};
\node[anchor=base west,inner sep=0,text=skyc,font=\armfont\bfseries\fontsize{18.2}{18.2}\selectfont] (idf) at (453,1478) {île\textmd{de}France};
\node[anchor=base east,inner sep=0,text=darkt,font=\armfont\fontsize{12}{12}\selectfont] (mob) at (553,1489) {mobilités};
\node[fill=skyc,rounded corners=4pt,minimum size=25pt,inner sep=0] (idfsq) at (569.5,1476) {};
\fill[white] (570,1469) circle (2.2);
\draw[white,line width=2.4pt,line cap=round] (561,1476) -- (578,1472) (569,1475) -- (571,1481) -- (565,1486) (571,1481) -- (577,1485);
\end{tikzpicture}
\end{document}
